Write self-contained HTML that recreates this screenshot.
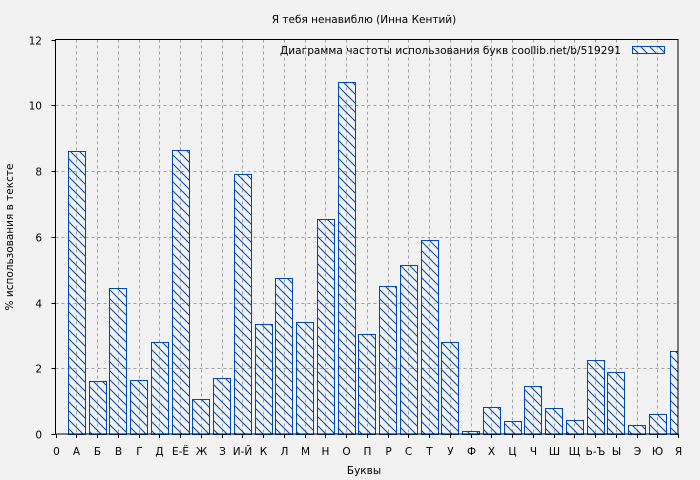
<!DOCTYPE html>
<html><head><meta charset="utf-8"><style>
body{margin:0;background:#f2f2f2;}
svg{display:block;font-family:"DejaVu Sans","Liberation Sans",sans-serif;}
</style></head><body>
<svg width="700" height="480" viewBox="0 0 700 480">
<defs>
<pattern id="h" patternUnits="userSpaceOnUse" width="9" height="9">
<path d="M-2,-2 L11,11 M-2,7 L2,11 M7,-2 L11,2" stroke="#0047b3" stroke-width="1"/>
</pattern>
<clipPath id="c"><rect x="55" y="39" width="623" height="396"/></clipPath>
</defs>
<rect width="700" height="480" fill="#f2f2f2"/>
<text x="364" y="23" font-size="10.5" text-anchor="middle" fill="#000">Я тебя ненавиблю (Инна Кентий)</text>
<g id="grid" stroke="#a0a0a0" stroke-dasharray="3,3" stroke-width="1"></g>
<g id="bars" clip-path="url(#c)"></g>
<g id="axes"></g>
<text x="280" y="54" font-size="10.5" fill="#000" textLength="341" lengthAdjust="spacingAndGlyphs">Диаграмма частоты использования букв  coollib.net/b/519291</text>
<rect x="632.5" y="46.5" width="32" height="7" fill="url(#h)" stroke="#0047b3"/>
<text x="364" y="474" font-size="10.5" text-anchor="middle">Буквы</text>
<text transform="translate(13,237) rotate(-90)" font-size="10.5" text-anchor="middle">% использования в тексте</text>
</svg>
<script>
var ns="http://www.w3.org/2000/svg";
function el(p,t,a,txt){var e=document.createElementNS(ns,t);for(var k in a)e.setAttribute(k,a[k]);if(txt!==undefined)e.textContent=txt;p.appendChild(e);return e;}
var g=document.getElementById("grid"),b=document.getElementById("bars"),ax=document.getElementById("axes");
var L=55.5,R=678,T=39.5,B=434,sc=(B-T)/12,dx=(R-L)/30;
var labs=["0","А","Б","В","Г","Д","Е-Ё","Ж","З","И-Й","К","Л","М","Н","О","П","Р","С","Т","У","Ф","Х","Ц","Ч","Ш","Щ","Ь-Ъ","Ы","Э","Ю","Я"];
var vals=[8.6,1.6,4.45,1.65,2.8,8.65,1.05,1.7,7.9,3.35,4.75,3.4,6.55,10.7,3.05,4.5,5.15,5.9,2.8,0.1,0.82,0.4,1.45,0.8,0.43,2.25,1.88,0.28,0.62,2.52];
for(var v=2;v<=10;v+=2){var y=Math.round(B-v*sc)+0.5;el(g,"line",{x1:L,x2:R,y1:y,y2:y});}
for(var i=1;i<30;i++){var x=Math.round(L+i*dx)+0.5;el(g,"line",{x1:x,x2:x,y1:T,y2:B});}
for(var i=0;i<30;i++){var cx=L+(i+1)*dx,h=vals[i]*sc;
el(b,"rect",{x:Math.round(cx-8.5)+0.5,y:Math.round(B-h)+0.5,width:17,height:Math.round(h),fill:"url(#h)",stroke:"#0047b3","stroke-width":1});}
el(ax,"rect",{x:L,y:T,width:R-L,height:B-T,fill:"none",stroke:"#000","stroke-width":1});
for(var v=0;v<=12;v+=2){var y=Math.round(B-v*sc)+0.5;el(ax,"line",{x1:L-4,x2:L,y1:y,y2:y,stroke:"#000"});
el(ax,"text",{x:42,y:y+4,"font-size":10.5,"text-anchor":"end"},String(v));}
for(var i=0;i<=30;i++){var x=Math.round(L+i*dx)+0.5;el(ax,"line",{x1:x,x2:x,y1:B,y2:B+4,stroke:"#000"});
el(ax,"text",{x:x,y:455,"font-size":10.5,"text-anchor":"middle"},labs[i]);}
</script>
</body></html>
